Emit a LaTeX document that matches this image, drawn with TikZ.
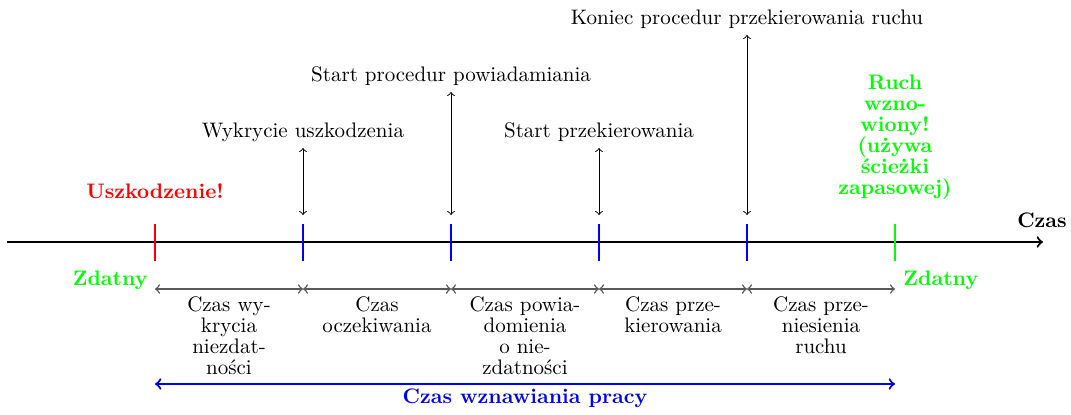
\documentclass[tikz,border=0pt]{standalone}
\usepackage{fontspec}
\begin{document}
\begin{tikzpicture}[x=0.4762pt,y=0.4762pt,>=to,
  txt/.style={inner sep=0pt,font=\fontsize{10}{10}\selectfont},
  btxt/.style={txt,font=\fontsize{10}{10}\selectfont\bfseries},
  axis/.style={line width=1pt,black},
  tick/.style={line width=1pt},
  marker/.style={<->,line width=0.45pt,black},
  span/.style={<->,line width=0.7pt,black!65},
  total/.style={<->,line width=1pt,blue}]
\useasboundingbox (0,0) rectangle (1071,-414);
% axis
\coordinate (a0) at (7,-242);
\coordinate (a1) at (1043,-242);
\draw[axis,->] (a0) -- (a1);
\node[btxt,anchor=base] (czas) at (1042,-227) {Czas};
% ticks
\foreach \n/\x/\c in {0/155/red,1/303/blue,2/451/blue,3/599/blue,4/747/blue,5/895/green}{
  \coordinate (t\n u) at (\x,-224);
  \coordinate (t\n d) at (\x,-261);
  \coordinate (m\n) at (\x,-215);
  \coordinate (s\n) at (\x,-289);
  \draw[tick,\c] (t\n u) -- (t\n d);
}
% event labels
\node[btxt,red,anchor=base] (usz) at (155,-198) {Uszkodzenie!};
\node[txt,anchor=base] (wyk) at (303,-137) {Wykrycie uszkodzenia};
\node[txt,anchor=base] (spp) at (451,-81) {Start procedur powiadamiania};
\node[txt,anchor=base] (spr) at (599,-137) {Start przekierowania};
\node[txt,anchor=base] (kon) at (747,-24) {Koniec procedur przekierowania ruchu};
\coordinate (w1) at (303,-148);
\coordinate (w2) at (451,-92);
\coordinate (w3) at (599,-148);
\coordinate (w4) at (747,-35);
\draw[marker] (w1) -- (m1);
\draw[marker] (w2) -- (m2);
\draw[marker] (w3) -- (m3);
\draw[marker] (w4) -- (m4);
\node[btxt,green,align=center,anchor=north] (ruch) at (895,-75)
  {Ruch\\wzno-\\wiony!\\(używa\\ścieżki\\zapasowej)};
\node[btxt,green,anchor=base east] (zd1) at (148,-285) {Zdatny};
\node[btxt,green,anchor=base west] (zd2) at (903,-285) {Zdatny};
% spans
\draw[span] (s0) -- (s1);
\draw[span] (s1) -- (s2);
\draw[span] (s2) -- (s3);
\draw[span] (s3) -- (s4);
\draw[span] (s4) -- (s5);
\node[txt,align=center,anchor=north] (l1) at (229,-296) {Czas wy-\\krycia\\niezdat-\\ności};
\node[txt,align=center,anchor=north] (l2) at (377,-296) {Czas\\oczekiwania};
\node[txt,align=center,anchor=north] (l3) at (525,-296) {Czas powia-\\domienia\\o nie-\\zdatności};
\node[txt,align=center,anchor=north] (l4) at (673,-296) {Czas prze-\\kierowania};
\node[txt,align=center,anchor=north] (l5) at (821,-296) {Czas prze-\\niesienia\\ruchu};
% total
\coordinate (b0) at (155,-384);
\coordinate (b5) at (895,-384);
\draw[total] (b0) -- (b5);
\node[btxt,blue,anchor=base] (wzn) at (525,-403) {Czas wznawiania pracy};
\end{tikzpicture}
\end{document}
